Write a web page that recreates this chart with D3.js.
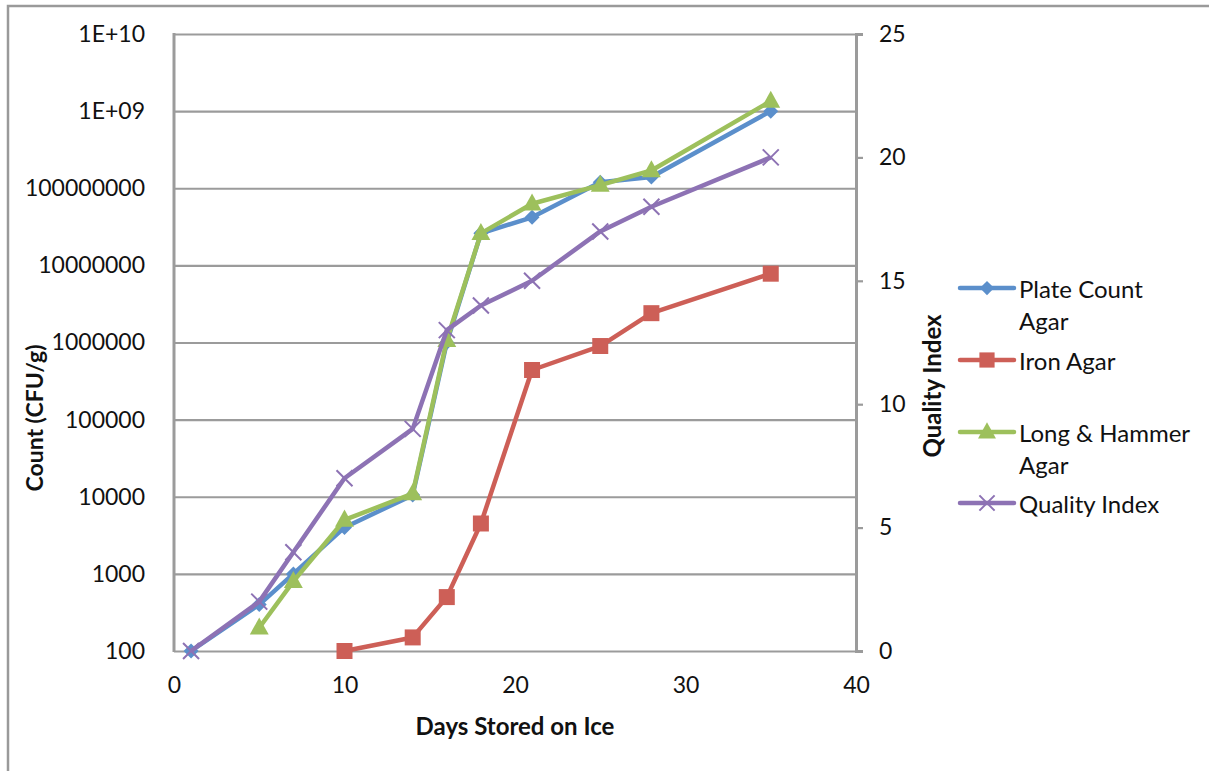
<!DOCTYPE html>
<html>
<head>
<meta charset="utf-8">
<script src="https://cdn.jsdelivr.net/npm/d3@7"></script>
<style>
  html, body { margin: 0; padding: 0; background: #fff; }
  svg text { font-family: Lato, "Open Sans", sans-serif; fill: #111; }
</style>
</head>
<body>
<svg id="chart" width="1209" height="771"></svg>
<script>
// Storage days and bacterial counts (CFU/g) per medium, plus quality index
const days = [1, 5, 7, 10, 14, 16, 18, 21, 25, 28, 35];
const plateCount = [100, 400, 1000, 4000, 10500, 1000000, 26000000, 42000000, 120000000, 140000000, 1000000000];
const ironDays = [10, 14, 16, 18, 21, 25, 28, 35];
const ironAgar = [100, 150, 500, 4500, 440000, 900000, 2400000, 7800000];
const lhDays = [5, 7, 10, 14, 16, 18, 21, 25, 28, 35];
const longHammer = [200, 800, 5000, 11000, 1070000, 26000000, 63000000, 110000000, 170000000, 1350000000];
const qualityIndex = [0, 2, 4, 7, 9, 13, 14, 15, 17, 18, 20];

const countTicks = [1e2, 1e3, 1e4, 1e5, 1e6, 1e7, 1e8, 1e9, 1e10];
const countTickLabels = ["100", "1000", "10000", "100000", "1000000", "10000000", "100000000", "1E+09", "1E+10"];
const qiTicks = [0, 5, 10, 15, 20, 25];
const dayTicks = [0, 10, 20, 30, 40];

const seriesNames = ["Plate Count Agar", "Iron Agar", "Long & Hammer Agar", "Quality Index"];

const svg = d3.select("#chart");
const L = 174, R = 856, T = 34, B = 651;
const gridColor = "#9b9b9b";

const x = d3.scaleLinear().domain([0, 40]).range([L, R]);
const yLog = d3.scaleLog().domain([1e2, 1e10]).range([B, T]);
const yQ = d3.scaleLinear().domain([0, 25]).range([B, T]);

// outer frame
svg.append("rect").attr("x", 8).attr("y", 6).attr("width", 1220).attr("height", 800)
  .attr("fill", "none").attr("stroke", "#9a9a9a").attr("stroke-width", 2.5);

// horizontal gridlines via left axis
const yAxisL = d3.axisLeft(yLog).tickValues(countTicks)
  .tickFormat((d, i) => countTickLabels[i]).tickSize(-(R - L)).tickPadding(29);
const gL = svg.append("g").attr("transform", `translate(${L},0)`).call(yAxisL);
gL.select(".domain").remove();
gL.selectAll(".tick line").attr("stroke", gridColor).attr("stroke-width", 2.2);
gL.selectAll(".tick text").attr("font-size", 23).attr("fill", "#111");

// left axis line
svg.append("line").attr("x1", L).attr("x2", L).attr("y1", T - 1).attr("y2", B + 1)
  .attr("stroke", gridColor).attr("stroke-width", 3);

// right axis
const yAxisR = d3.axisRight(yQ).tickValues(qiTicks).tickSize(7).tickPadding(16);
const gR = svg.append("g").attr("transform", `translate(${R},0)`).call(yAxisR);
gR.select(".domain").attr("stroke", gridColor).attr("stroke-width", 3);
gR.selectAll(".tick line").attr("stroke", gridColor).attr("stroke-width", 2.2);
gR.selectAll(".tick text").attr("font-size", 23).attr("fill", "#111");

// bottom axis labels
const xAxis = d3.axisBottom(x).tickValues(dayTicks).tickSize(0).tickPadding(26);
const gX = svg.append("g").attr("transform", `translate(0,${B})`).call(xAxis);
gX.select(".domain").remove();
gX.selectAll(".tick text").attr("font-size", 23).attr("fill", "#111");

// axis titles
svg.append("text").attr("x", 515).attr("y", 735).attr("text-anchor", "middle")
  .attr("font-size", 24).attr("font-weight", "bold").text("Days Stored on Ice");
svg.append("text").attr("transform", "translate(43,418) rotate(-90)").attr("text-anchor", "middle")
  .attr("font-size", 23).attr("font-weight", "bold").text("Count (CFU/g)");
svg.append("text").attr("transform", "translate(941,386) rotate(-90)").attr("text-anchor", "middle")
  .attr("font-size", 24).attr("font-weight", "bold").text("Quality Index");

const colors = ["#5b8fcb", "#cd5f57", "#9dc05c", "#8d72b4"];

function markerPath(kind, s) {
  if (kind === "diamond") return `M0,${-s}L${s},0L0,${s}L${-s},0Z`;
  if (kind === "square") return `M${-s},${-s}H${s}V${s}H${-s}Z`;
  if (kind === "triangle") return `M0,${-s * 1.15}L${s * 1.05},${s * 0.75}L${-s * 1.05},${s * 0.75}Z`;
  return `M${-s},${-s}L${s},${s}M${s},${-s}L${-s},${s}`;
}

const series = [
  { xs: days, ys: plateCount, y: yLog, kind: "diamond", size: 7.5 },
  { xs: ironDays, ys: ironAgar, y: yLog, kind: "square", size: 8 },
  { xs: lhDays, ys: longHammer, y: yLog, kind: "triangle", size: 9 },
  { xs: days, ys: qualityIndex, y: yQ, kind: "cross", size: 8 }
];

series.forEach((s, i) => {
  const pts = s.xs.map((d, j) => [x(d), s.y(s.ys[j])]);
  const g = svg.append("g");
  g.append("path").attr("d", d3.line()(pts)).attr("fill", "none")
    .attr("stroke", colors[i]).attr("stroke-width", 4.5).attr("stroke-linejoin", "round");
  g.selectAll("path.m").data(pts).join("path").attr("class", "m")
    .attr("transform", p => `translate(${p[0]},${p[1]})`)
    .attr("d", markerPath(s.kind, s.size))
    .attr("fill", s.kind === "cross" ? "none" : colors[i])
    .attr("stroke", colors[i]).attr("stroke-width", s.kind === "cross" ? 2 : 0);
});

// legend
const legendItems = [
  { lines: ["Plate Count", "Agar"], y: 288 },
  { lines: ["Iron Agar"], y: 360 },
  { lines: ["Long & Hammer", "Agar"], y: 432 },
  { lines: ["Quality Index"], y: 503 }
];
legendItems.forEach((it, i) => {
  const g = svg.append("g");
  g.append("line").attr("x1", 960).attr("x2", 1014).attr("y1", it.y).attr("y2", it.y)
    .attr("stroke", colors[i]).attr("stroke-width", 4.5).attr("stroke-linecap", "round");
  const s = series[i];
  g.append("path").attr("transform", `translate(987,${it.y})`)
    .attr("d", markerPath(s.kind, s.size * 0.95))
    .attr("fill", s.kind === "cross" ? "none" : colors[i])
    .attr("stroke", colors[i]).attr("stroke-width", s.kind === "cross" ? 2 : 0);
  const t = g.append("text").attr("x", 1019).attr("y", it.y + 10).attr("font-size", 24);
  t.selectAll("tspan").data(it.lines).join("tspan")
    .attr("x", 1019).attr("dy", (d, j) => j === 0 ? 0 : 32).text(d => d);
  t.attr("aria-label", seriesNames[i]);
});
</script>
</body>
</html>
